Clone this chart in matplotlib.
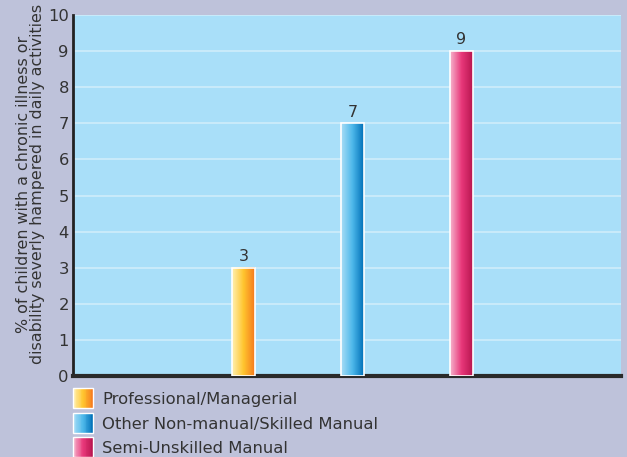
import numpy as np
import matplotlib
matplotlib.use("Agg")
import matplotlib.pyplot as plt
from matplotlib.colors import LinearSegmentedColormap
from matplotlib.patches import Rectangle

categories = ["Professional/Managerial", "Other Non-manual/Skilled Manual", "Semi-Unskilled Manual"]
values = [3, 7, 9]
positions = [1.56, 2.555, 3.55]
yticks = list(range(0, 11))
gradients = [
    ["#FFF0B0", "#FFC52E", "#F57A1E"],
    ["#A8DDF6", "#4DB8EA", "#0070B8"],
    ["#F6B3CC", "#E8387A", "#B8154F"],
]

BG = "#BEC2DA"
PLOT_BG = "#A9DFF9"
GRID = "#CFEDFB"
TXT = "#333333"

W, H = 627, 457
fig = plt.figure(figsize=(W/100, H/100), dpi=100, facecolor=BG)
ax = fig.add_axes([73/W, 1-376/H, (621-73)/W, (376-15)/H])
ax.set_facecolor(PLOT_BG)

bars = ax.bar(positions, values, width=0.21, color="none", edgecolor="white", linewidth=1.2, zorder=4)
for bar, cols in zip(bars, gradients):
    cmap = LinearSegmentedColormap.from_list("g", cols)
    x0, w, h = bar.get_x(), bar.get_width(), bar.get_height()
    grad = np.linspace(0, 1, 64).reshape(1, -1)
    ax.imshow(grad, cmap=cmap, extent=[x0, x0 + w, 0, h], aspect="auto", zorder=3, interpolation="bilinear")
    ax.text(x0 + w/2, h + 0.1, str(int(h)), ha="center", va="bottom", fontsize=11.5, color=TXT)

ax.set_xlim(0, 5.01)
ax.set_ylim(0, 10)
ax.set_yticks(yticks)
ax.set_xticks([])
ax.yaxis.grid(True, color=GRID, linewidth=1.2)
ax.set_axisbelow(True)
ax.tick_params(axis="y", length=0, pad=3, labelsize=11.8, labelcolor=TXT)
for s in ["top", "right"]:
    ax.spines[s].set_visible(False)
ax.spines["left"].set_linewidth(2)
ax.spines["left"].set_color("#222222")
ax.spines["bottom"].set_linewidth(3)
ax.spines["bottom"].set_color("#2a2a2a")
ax.set_ylabel("% of children with a chronic illness or\ndisability severly hampered in daily activities",
              fontsize=11.4, color=TXT, linespacing=0.88)
ax.yaxis.set_label_coords(-0.051, 0.532)

# legend drawn manually in figure pixel coordinates
sq_x, sq_w, sq_h = 73, 20, 20
tops = [388, 412.5, 437]
for lab, cols, top in zip(categories, gradients, tops):
    cmap = LinearSegmentedColormap.from_list("g", cols)
    n = 24
    for i in range(n):
        fig.add_artist(Rectangle(((sq_x + sq_w * i / n) / W, 1 - (top + sq_h) / H), (sq_w / n + 0.4) / W, sq_h / H,
                                 transform=fig.transFigure, facecolor=cmap(i / (n - 1)), edgecolor="none"))
    fig.add_artist(Rectangle((sq_x / W, 1 - (top + sq_h) / H), sq_w / W, sq_h / H, transform=fig.transFigure,
                             facecolor="none", edgecolor="white", linewidth=1))
    fig.text(102 / W, 1 - (top + sq_h / 2) / H, lab, ha="left", va="center_baseline", fontsize=11.8, color=TXT)

fig.savefig("out.png", dpi=100, facecolor=BG)
